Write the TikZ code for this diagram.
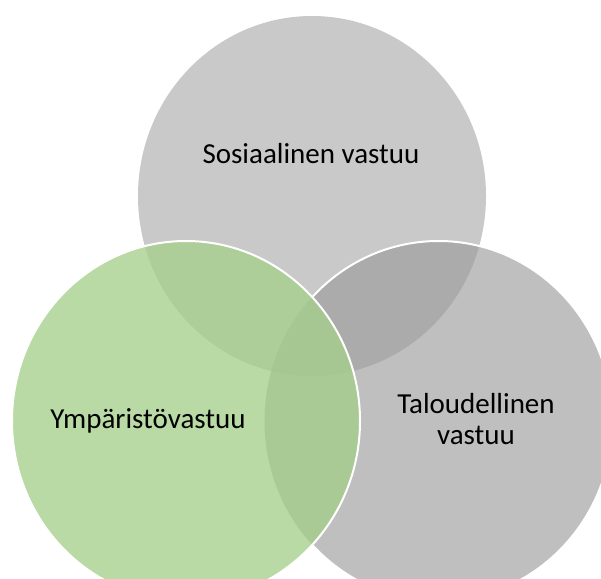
\documentclass[tikz,border=0pt]{standalone}
\usepackage{fontspec}
\setmainfont{Carlito}
\definecolor{cT}{RGB}{201,201,201}
\definecolor{cR}{RGB}{191,191,191}
\definecolor{cTR}{RGB}{171,171,171}
\definecolor{cL}{RGB}{185,217,165}
\definecolor{cLT}{RGB}{173,206,152}
\definecolor{cLR}{RGB}{170,202,149}
\definecolor{cLTR}{RGB}{167,199,146}
\tikzset{
  ell/.style={x radius=174pt, y radius=180pt},
  lbl/.style={font=\fontsize{29}{31}\selectfont, anchor=base, text=black, inner sep=0pt}
}
\begin{document}
\begin{tikzpicture}[x=1pt,y=-1pt]
\path[use as bounding box] (0,0) rectangle (601,578);
\clip (0,0) rectangle (601,578);
\coordinate (T) at (312,196);
\coordinate (R) at (438.5,421);
\coordinate (L) at (186,421);
% top circle
\fill[cT] (T) ellipse [ell];
% right circle
\fill[cR] (R) ellipse [ell];
\begin{scope}
  \clip (T) ellipse [ell];
  \fill[cTR] (R) ellipse [ell];
\end{scope}
\draw[white, line width=2pt] (R) ellipse [ell];
% left circle
\fill[cL] (L) ellipse [ell];
\begin{scope}
  \clip (L) ellipse [ell];
  \fill[cLT] (T) ellipse [ell];
  \fill[cLR] (R) ellipse [ell];
  \clip (T) ellipse [ell];
  \fill[cLTR] (R) ellipse [ell];
\end{scope}
\draw[white, line width=2pt] (L) ellipse [ell];
% labels
\node[lbl] (sos) at (311,163) {Sosiaalinen vastuu};
\node[lbl] (ymp) at (148,428) {Ympäristövastuu};
\node[lbl] (tal1) at (476,413) {Taloudellinen};
\node[lbl] (tal2) at (476,444) {vastuu};
\end{tikzpicture}
\end{document}
